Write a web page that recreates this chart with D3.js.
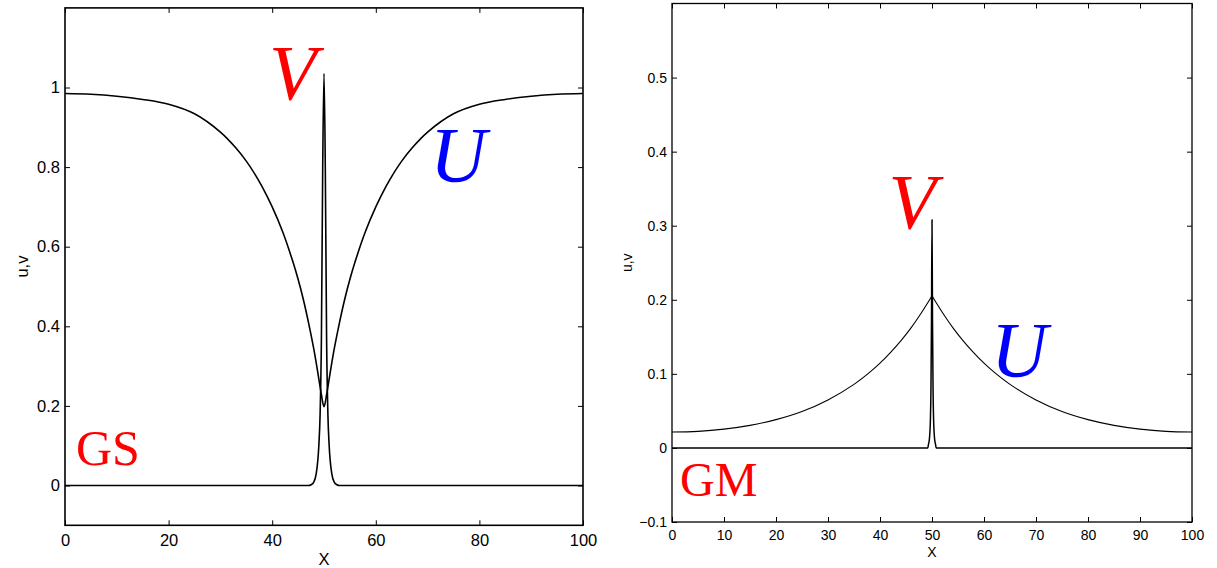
<!DOCTYPE html>
<html>
<head>
<meta charset="utf-8">
<script src="https://cdn.jsdelivr.net/npm/d3@7"></script>
<style>
  html, body { margin: 0; padding: 0; background: #fff; }
  svg { display: block; }
  .tick text { font-family: "Liberation Sans", Arial, Helvetica, sans-serif; fill: #000; }
</style>
</head>
<body>
<script>
// ---------------- data ----------------
// Left panel (GS)
const gsUx = [0,5,10,15,20,25,30,33,35,37,38,40,42,44,45,46,47,48,48.5,49,49.5,50,50.5,51,51.5,52,53,54,55,56,58,60,62,63,65,67,70,75,80,85,90,95,100];
const gsU  = [0.985,0.983,0.978,0.970,0.958,0.934,0.888,0.848,0.815,0.775,0.752,0.700,0.638,0.562,0.518,0.468,0.410,0.345,0.308,0.268,0.228,0.198,0.228,0.268,0.308,0.345,0.410,0.468,0.518,0.562,0.638,0.700,0.752,0.775,0.815,0.848,0.888,0.934,0.958,0.970,0.978,0.983,0.985];
const gsVx = [0,47,47.5,48,48.5,49,49.25,49.5,49.75,50,50.25,50.5,50.75,51,51.5,52,52.5,53,100];
const gsV  = [0,0,0.002,0.008,0.03,0.10,0.18,0.37,0.80,1.035,0.80,0.37,0.18,0.10,0.03,0.008,0.002,0,0];
const gsXTicks = [0,20,40,60,80,100];
const gsYTicks = [0,0.2,0.4,0.6,0.8,1];
const gsYTickLabels = ["0","0.2","0.4","0.6","0.8","1"];

// Right panel (GM)
const gmUx = [0,5,10,15,20,25,30,35,38,40,42,44,46,47,48,49,50,51,52,53,54,56,58,60,62,65,70,75,80,85,90,95,100];
const gmU  = [0.0215,0.0224,0.0254,0.0305,0.0382,0.0492,0.0648,0.0858,0.1019,0.1144,0.1286,0.1445,0.1625,0.1724,0.1828,0.1939,0.2055,0.1939,0.1828,0.1724,0.1625,0.1445,0.1286,0.1144,0.1019,0.0858,0.0648,0.0492,0.0382,0.0305,0.0254,0.0224,0.0215];
const gmVx = [0,49.2,49.3,49.5,49.7,49.8,49.9,50,50.1,50.2,50.3,50.5,50.7,50.8,100];
const gmV  = [0,0,0.004,0.012,0.04,0.08,0.17,0.308,0.17,0.08,0.04,0.012,0.004,0,0];
const gmXTicks = [0,10,20,30,40,50,60,70,80,90,100];
const gmYTicks = [-0.1,0,0.1,0.2,0.3,0.4,0.5];
const gmYTickLabels = ["\u22120.1","0","0.1","0.2","0.3","0.4","0.5"];

const xLabel = "X";
const yLabel = "u,v";

// ---------------- drawing ----------------
const svg = d3.select("body").append("svg")
  .attr("width", 1217).attr("height", 568)
  .style("background", "#fff");

function panel(cfg) {
  const x = d3.scaleLinear().domain([0, 100]).range([cfg.left, cfg.right]);
  const y = d3.scaleLinear().domain(cfg.ydom).range([cfg.bottom, cfg.top]);
  const g = svg.append("g");
  const clipId = "clip" + cfg.id;
  svg.append("clipPath").attr("id", clipId).append("rect")
    .attr("x", cfg.left).attr("y", cfg.top)
    .attr("width", cfg.right - cfg.left).attr("height", cfg.bottom - cfg.top);

  const uLine = d3.line().x(d => x(d[0])).y(d => y(d[1])).curve(cfg.uCurve);
  const vLine = d3.line().x(d => x(d[0])).y(d => y(d[1])).curve(d3.curveMonotoneX);

  const lines = g.append("g").attr("clip-path", `url(#${clipId})`);
  const uPts = cfg.ux.map((v, i) => [v, cfg.u[i]]);
  const uSegs = cfg.splitU ? [uPts.filter(p => p[0] <= 50), uPts.filter(p => p[0] >= 50)] : [uPts];
  uSegs.forEach(seg => {
    lines.append("path").datum(seg)
      .attr("d", uLine).attr("fill", "none").attr("stroke", "#000")
      .attr("stroke-width", cfg.uw).attr("stroke-linejoin", "round");
  });
  lines.append("path")
    .datum(cfg.vx.map((v, i) => [v, cfg.v[i]]))
    .attr("d", vLine).attr("fill", "none").attr("stroke", "#000")
    .attr("stroke-width", cfg.vw).attr("stroke-linejoin", "round");

  const fs = cfg.fs;
  const ab = g.append("g").attr("transform", `translate(0,${cfg.bottom})`)
    .call(d3.axisBottom(x).tickValues(cfg.xticks).tickFormat(d3.format("d"))
      .tickSizeInner(-5).tickSizeOuter(0).tickPadding(cfg.xpad));
  const at = g.append("g").attr("transform", `translate(0,${cfg.top})`)
    .call(d3.axisTop(x).tickValues(cfg.xticks).tickFormat("")
      .tickSizeInner(-5).tickSizeOuter(0));
  const al = g.append("g").attr("transform", `translate(${cfg.left},0)`)
    .call(d3.axisLeft(y).tickValues(cfg.yticks).tickFormat((d, i) => cfg.ylabels[i])
      .tickSizeInner(-5).tickSizeOuter(0).tickPadding(5));
  const ar = g.append("g").attr("transform", `translate(${cfg.right},0)`)
    .call(d3.axisRight(y).tickValues(cfg.yticks).tickFormat("")
      .tickSizeInner(-5).tickSizeOuter(0));
  [ab, at, al, ar].forEach(a => {
    a.select(".domain").remove();
    a.selectAll(".tick line").attr("stroke", "#000").attr("stroke-width", 1);
    a.selectAll(".tick text").style("font-size", fs + "px");
    a.attr("font-family", null).attr("font-size", null);
  });

  g.append("rect")
    .attr("x", cfg.left).attr("y", cfg.top)
    .attr("width", cfg.right - cfg.left).attr("height", cfg.bottom - cfg.top)
    .attr("fill", "none").attr("stroke", "#000").attr("stroke-width", cfg.bw);

  g.append("text").text(xLabel)
    .attr("x", (cfg.left + cfg.right) / 2).attr("y", cfg.xlabY)
    .attr("text-anchor", "middle")
    .style("font-family", "'Liberation Sans', Arial, sans-serif").style("font-size", fs + "px");
  g.append("text").text(yLabel)
    .attr("transform", `translate(${cfg.ylabX},${(cfg.top + cfg.bottom) / 2}) rotate(-90)`)
    .attr("text-anchor", "middle")
    .style("font-family", "'Liberation Sans', Arial, sans-serif").style("font-size", fs + "px");

  const serif = "'Liberation Serif', 'Times New Roman', Times, serif";
  g.append("text").text("V").attr("x", cfg.vLab[0]).attr("y", cfg.vLab[1])
    .style("font-family", serif).style("font-style", "italic").style("font-size", "78px").attr("fill", "#ff0000");
  g.append("text").text("U").attr("x", cfg.uLab[0]).attr("y", cfg.uLab[1])
    .style("font-family", serif).style("font-style", "italic").style("font-size", "78px").attr("fill", "#0000ff");
  g.append("text").text(cfg.name).attr("x", cfg.nLab[0]).attr("y", cfg.nLab[1])
    .style("font-family", serif).style("font-size", cfg.nfs + "px").attr("fill", "#ff0000");
}

panel({
  id: "L", left: 65, right: 583, top: 7.9, bottom: 525.3, ydom: [-0.1, 1.2],
  ux: gsUx, u: gsU, vx: gsVx, v: gsV, uw: 1.6, vw: 1.6, bw: 1.6,
  uCurve: d3.curveCatmullRom.alpha(0.5), splitU: false,
  xticks: gsXTicks, yticks: gsYTicks, ylabels: gsYTickLabels,
  fs: 16.5, xpad: 9, xlabY: 565, ylabX: 28,
  vLab: [269, 99], uLab: [430, 180.5], name: "GS", nLab: [76, 465], nfs: 50
});

panel({
  id: "R", left: 672, right: 1192, top: 3.5, bottom: 522, ydom: [-0.1, 0.6],
  ux: gmUx, u: gmU, vx: gmVx, v: gmV, uw: 1.1, vw: 1.5, bw: 1.3,
  uCurve: d3.curveCatmullRom.alpha(0.5), splitU: true,
  xticks: gmXTicks, yticks: gmYTicks, ylabels: gmYTickLabels,
  fs: 14, xpad: 8, xlabY: 557, ylabX: 632,
  vLab: [888.5, 227.5], uLab: [991, 376], name: "GM", nLab: [680, 495.5], nfs: 48
});
</script>
</body>
</html>
